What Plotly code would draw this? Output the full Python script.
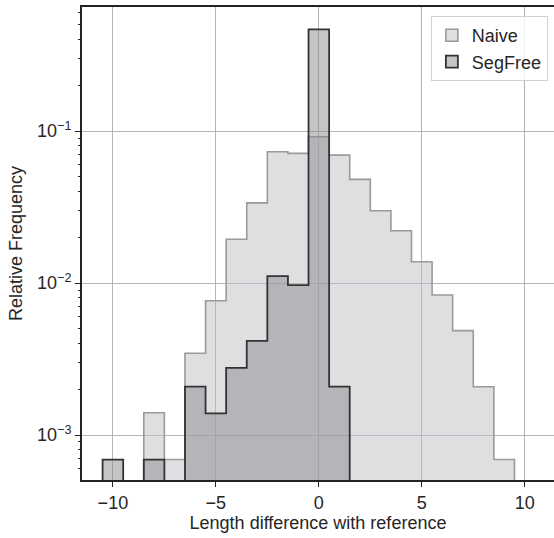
import numpy as np
import plotly.graph_objects as go

# bin centres (width 1)
bins = list(range(-10, 10))
naive = [0, 0, 1.40e-3, 6.9e-4, 3.45e-3, 7.65e-3, 0.0194, 0.0337, 0.0731, 0.0713,
         0.0917, 0.0695, 0.0481, 0.0299, 0.0221, 0.0138, 8.34e-3, 4.86e-3, 2.08e-3, 6.9e-4]
segfree = [6.9e-4, 0, 6.9e-4, 0, 2.08e-3, 1.39e-3, 2.77e-3, 4.17e-3, 0.0111, 9.7e-3,
           0.467, 2.08e-3, 0, 0, 0, 0, 0, 0, 0, 0]

FLOOR = 1e-6

NAIVE_FILL = "rgba(192,192,196,0.5)"
NAIVE_EDGE = "#9a9a9c"
SEG_FILL = "rgba(140,140,145,0.5)"
SEG_EDGE = "#333333"


def step_polygon(centres, values):
    xs, ys = [centres[0] - 0.5], [FLOOR]
    for c, v in zip(centres, values):
        v = v if v > 0 else FLOOR
        xs += [c - 0.5, c + 0.5]
        ys += [v, v]
    xs.append(centres[-1] + 0.5)
    ys.append(FLOOR)
    return xs, ys


fig = go.Figure()
nx, ny = step_polygon(bins, naive)
fig.add_trace(go.Scatter(x=nx, y=ny, mode="lines", fill="toself", name="Naive",
                         fillcolor=NAIVE_FILL, showlegend=False,
                         line=dict(color=NAIVE_EDGE, width=1.6)))
sx, sy = step_polygon(bins, segfree)
fig.add_trace(go.Scatter(x=sx, y=sy, mode="lines", fill="toself", name="SegFree",
                         fillcolor=SEG_FILL, showlegend=False,
                         line=dict(color=SEG_EDGE, width=1.8)))
# legend proxies (rectangle patches)
fig.add_trace(go.Bar(x=[None], y=[None], name="Naive",
                     marker=dict(color="#e0e0e2", line=dict(color=NAIVE_EDGE, width=1.6))))
fig.add_trace(go.Bar(x=[None], y=[None], name="SegFree",
                     marker=dict(color="#c6c6c8", line=dict(color=SEG_EDGE, width=1.8))))
# invisible trace carrying the minor-tick axis
fig.add_trace(go.Scatter(x=[None], y=[None], yaxis="y2", showlegend=False, hoverinfo="skip"))

font = dict(family="Liberation Sans, Arial, sans-serif", size=18, color="#262626")

yrange = [np.log10(5.06e-4), np.log10(0.655)]
minor_vals = [m * 10.0 ** e for e in (-4, -3, -2, -1) for m in range(2, 10)]

fig.update_layout(
    width=554, height=538,
    margin=dict(l=82, r=0, t=7, b=58),
    plot_bgcolor="white", paper_bgcolor="white",
    font=font,
    showlegend=True,
    legend=dict(x=0.987, y=0.981, xanchor="right", yanchor="top",
                bgcolor="rgba(255,255,255,0.8)", bordercolor="#d0d0d0", borderwidth=1,
                font=dict(size=18, color="#262626"), tracegroupgap=2),
    yaxis2=dict(type="log", range=yrange, overlaying="y", side="left",
                tickmode="array", tickvals=minor_vals, showticklabels=False,
                ticks="outside", ticklen=3, tickwidth=1, tickcolor="#222222",
                showgrid=False, zeroline=False, showline=False),
)
fig.update_xaxes(
    range=[-11.5, 11.42],
    tickvals=[-10, -5, 0, 5, 10], ticktext=["−10", "−5", "0", "5", "10"],
    showgrid=True, gridcolor="#b4b4b8", gridwidth=1.3,
    showline=True, linecolor="#222222", linewidth=2, mirror=True,
    ticks="outside", ticklen=5, tickwidth=1.3, tickcolor="#222222",
    zeroline=False,
    title=dict(text="Length difference with reference", standoff=4, font=font),
)
fig.update_yaxes(
    selector=dict(anchor="x"),
)
fig.layout.yaxis.update(
    type="log", range=yrange,
    tickvals=[1e-3, 1e-2, 1e-1],
    ticktext=["10<sup>−3</sup>", "10<sup>−2</sup>", "10<sup>−1</sup>"],
    showgrid=True, gridcolor="#b4b4b8", gridwidth=1.3,
    showline=True, linecolor="#222222", linewidth=2, mirror=False,
    ticks="outside", ticklen=5, tickwidth=1.3, tickcolor="#222222",
    zeroline=False,
    title=dict(text="Relative Frequency", standoff=10, font=font),
)

fig.write_html("out.html")
